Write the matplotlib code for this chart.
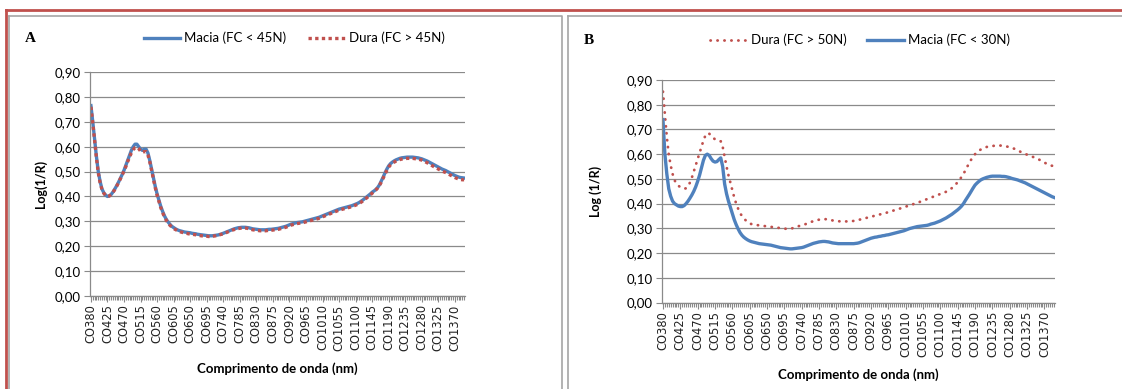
import numpy as np
import matplotlib
matplotlib.use("Agg")
import matplotlib.pyplot as plt
from matplotlib.lines import Line2D
from matplotlib.ticker import FixedLocator, FuncFormatter, MultipleLocator

# categories: CO380 ... CO1395, one every 5 nm
wavelengths = list(range(380, 1400, 5))
categories = ["CO%d" % w for w in wavelengths]

# panel A, one row per labelled step (9 categories)
macia_a = [
    0.765, 0.70, 0.63, 0.56, 0.50, 0.46, 0.43, 0.415, 0.405,
    0.40, 0.402, 0.408, 0.418, 0.43, 0.443, 0.457, 0.472, 0.488,
    0.505, 0.525, 0.545, 0.565, 0.585, 0.60, 0.61, 0.61, 0.60,
    0.59, 0.585, 0.59, 0.59, 0.575, 0.545, 0.51, 0.475, 0.44,
    0.41, 0.385, 0.36, 0.34, 0.322, 0.308, 0.297, 0.288, 0.28,
    0.275, 0.27, 0.266, 0.263, 0.261, 0.259, 0.257, 0.256, 0.255,
    0.254, 0.252, 0.251, 0.25, 0.248, 0.247, 0.246, 0.245, 0.244,
    0.243, 0.242, 0.242, 0.242, 0.243, 0.244, 0.245, 0.247, 0.249,
    0.252, 0.255, 0.258, 0.261, 0.264, 0.267, 0.27, 0.272, 0.274,
    0.275, 0.276, 0.276, 0.276, 0.275, 0.274, 0.272, 0.27, 0.269,
    0.268, 0.267, 0.266, 0.266, 0.266, 0.266, 0.267, 0.268, 0.268,
    0.269, 0.27, 0.271, 0.272, 0.274, 0.276, 0.278, 0.28, 0.283,
    0.286, 0.289, 0.291, 0.293, 0.295, 0.296, 0.297, 0.298, 0.30,
    0.302, 0.304, 0.306, 0.308, 0.31, 0.312, 0.314, 0.316, 0.319,
    0.322, 0.325, 0.328, 0.331, 0.334, 0.337, 0.34, 0.343, 0.346,
    0.349, 0.351, 0.353, 0.355, 0.357, 0.359, 0.361, 0.363, 0.366,
    0.369, 0.372, 0.376, 0.381, 0.386, 0.392, 0.398, 0.404, 0.41,
    0.417, 0.422, 0.428, 0.436, 0.447, 0.462, 0.478, 0.495, 0.51,
    0.523, 0.532, 0.538, 0.543, 0.547, 0.55, 0.553, 0.555, 0.556,
    0.557, 0.558, 0.558, 0.558, 0.558, 0.557, 0.556, 0.555, 0.553,
    0.551, 0.548, 0.545, 0.542, 0.538, 0.534, 0.53, 0.526, 0.522,
    0.518, 0.514, 0.51, 0.507, 0.504, 0.50, 0.496, 0.492, 0.488,
    0.484, 0.481, 0.478, 0.476, 0.475, 0.474,
]
dura_a = [
    0.76, 0.695, 0.625, 0.555, 0.495, 0.455, 0.428, 0.413, 0.404,
    0.40, 0.402, 0.407, 0.416, 0.428, 0.441, 0.455, 0.47, 0.486,
    0.502, 0.52, 0.54, 0.558, 0.575, 0.588, 0.596, 0.598, 0.592,
    0.582, 0.577, 0.58, 0.58, 0.567, 0.54, 0.505, 0.47, 0.435,
    0.405, 0.38, 0.355, 0.335, 0.318, 0.304, 0.293, 0.284, 0.277,
    0.271, 0.267, 0.263, 0.26, 0.257, 0.255, 0.253, 0.252, 0.25,
    0.249, 0.248, 0.247, 0.246, 0.244, 0.243, 0.242, 0.241, 0.24,
    0.24, 0.239, 0.239, 0.24, 0.241, 0.242, 0.244, 0.246, 0.248,
    0.25, 0.253, 0.256, 0.259, 0.262, 0.265, 0.267, 0.269, 0.271,
    0.272, 0.273, 0.273, 0.273, 0.272, 0.27, 0.268, 0.266, 0.265,
    0.264, 0.263, 0.262, 0.262, 0.262, 0.262, 0.263, 0.264, 0.264,
    0.265, 0.266, 0.267, 0.268, 0.27, 0.272, 0.274, 0.276, 0.279,
    0.282, 0.285, 0.287, 0.289, 0.291, 0.292, 0.293, 0.294, 0.296,
    0.298, 0.30, 0.302, 0.304, 0.306, 0.308, 0.31, 0.312, 0.315,
    0.318, 0.321, 0.324, 0.327, 0.33, 0.333, 0.336, 0.339, 0.342,
    0.345, 0.347, 0.349, 0.351, 0.353, 0.355, 0.357, 0.359, 0.362,
    0.365, 0.368, 0.372, 0.377, 0.382, 0.388, 0.394, 0.40, 0.406,
    0.413, 0.42, 0.426, 0.434, 0.445, 0.458, 0.474, 0.49, 0.505,
    0.518, 0.527, 0.533, 0.538, 0.542, 0.545, 0.548, 0.55, 0.551,
    0.552, 0.553, 0.553, 0.553, 0.553, 0.552, 0.551, 0.55, 0.548,
    0.546, 0.543, 0.539, 0.535, 0.531, 0.527, 0.522, 0.518, 0.514,
    0.51, 0.506, 0.502, 0.499, 0.496, 0.492, 0.488, 0.484, 0.48,
    0.476, 0.473, 0.47, 0.468, 0.467, 0.467,
]

# panel B
dura_b = [
    0.853, 0.76, 0.67, 0.60, 0.555, 0.52, 0.495, 0.48, 0.472,
    0.467, 0.463, 0.46, 0.462, 0.47, 0.485, 0.505, 0.53, 0.555,
    0.58, 0.605, 0.63, 0.655, 0.675, 0.685, 0.683, 0.675, 0.667,
    0.66, 0.656, 0.654, 0.652, 0.63, 0.59, 0.55, 0.515, 0.485,
    0.455, 0.425, 0.40, 0.38, 0.362, 0.35, 0.34, 0.332, 0.325,
    0.32, 0.317, 0.315, 0.314, 0.313, 0.312, 0.311, 0.31, 0.309,
    0.308, 0.307, 0.306, 0.305, 0.304, 0.303, 0.302, 0.301, 0.30,
    0.299, 0.298, 0.297, 0.298, 0.30, 0.302, 0.305, 0.308, 0.31,
    0.312, 0.314, 0.317, 0.32, 0.323, 0.326, 0.329, 0.331, 0.333,
    0.335, 0.336, 0.337, 0.337, 0.337, 0.336, 0.334, 0.332, 0.331,
    0.33, 0.329, 0.328, 0.328, 0.328, 0.328, 0.328, 0.328, 0.329,
    0.33, 0.331, 0.333, 0.335, 0.337, 0.339, 0.341, 0.343, 0.345,
    0.347, 0.349, 0.351, 0.353, 0.355, 0.357, 0.359, 0.361, 0.363,
    0.366, 0.368, 0.37, 0.373, 0.375, 0.378, 0.38, 0.383, 0.385,
    0.388, 0.39, 0.393, 0.395, 0.398, 0.40, 0.403, 0.406, 0.409,
    0.412, 0.415, 0.418, 0.421, 0.424, 0.427, 0.43, 0.433, 0.436,
    0.439, 0.442, 0.445, 0.448, 0.452, 0.457, 0.463, 0.47, 0.478,
    0.487, 0.497, 0.508, 0.52, 0.535, 0.55, 0.565, 0.578, 0.59,
    0.60, 0.608, 0.614, 0.619, 0.623, 0.626, 0.629, 0.631, 0.632,
    0.633, 0.634, 0.635, 0.635, 0.635, 0.634, 0.633, 0.632, 0.63,
    0.628, 0.626, 0.623, 0.62, 0.616, 0.612, 0.608, 0.605, 0.601,
    0.598, 0.595, 0.592, 0.589, 0.586, 0.583, 0.579, 0.575, 0.571,
    0.566, 0.562, 0.558, 0.555, 0.553, 0.551,
]
macia_b = [
    0.74, 0.60, 0.52, 0.46, 0.43, 0.41, 0.40, 0.395, 0.39,
    0.388, 0.388, 0.392, 0.40, 0.41, 0.422, 0.435, 0.45, 0.468,
    0.49, 0.515, 0.545, 0.575, 0.595, 0.60, 0.595, 0.582, 0.572,
    0.568, 0.57, 0.578, 0.585, 0.55, 0.48, 0.44, 0.41, 0.385,
    0.36, 0.335, 0.315, 0.298, 0.283, 0.272, 0.264, 0.258, 0.253,
    0.249, 0.246, 0.244, 0.242, 0.24, 0.238, 0.237, 0.236, 0.235,
    0.234, 0.233, 0.232, 0.23, 0.228, 0.226, 0.224, 0.222, 0.221,
    0.22, 0.219, 0.218, 0.217, 0.217, 0.218, 0.219, 0.22, 0.221,
    0.222, 0.224, 0.227, 0.23, 0.233, 0.236, 0.239, 0.241, 0.243,
    0.245, 0.246, 0.247, 0.247, 0.246, 0.245, 0.243, 0.241, 0.24,
    0.239, 0.238, 0.238, 0.238, 0.238, 0.238, 0.238, 0.238, 0.238,
    0.238, 0.239, 0.24, 0.242, 0.245, 0.248, 0.251, 0.254, 0.257,
    0.26, 0.262, 0.264, 0.265, 0.267, 0.268, 0.27, 0.271, 0.273,
    0.274, 0.276, 0.278, 0.28, 0.282, 0.284, 0.286, 0.288, 0.29,
    0.293, 0.296, 0.299, 0.301, 0.303, 0.305, 0.307, 0.308, 0.309,
    0.31, 0.311, 0.312, 0.314, 0.317, 0.319, 0.321, 0.324, 0.327,
    0.33, 0.334, 0.338, 0.342, 0.347, 0.352, 0.357, 0.363, 0.369,
    0.375, 0.382, 0.39, 0.40, 0.413, 0.425, 0.437, 0.45, 0.463,
    0.475, 0.483, 0.49, 0.496, 0.50, 0.503, 0.506, 0.508, 0.51,
    0.511, 0.511, 0.511, 0.511, 0.511, 0.51, 0.51, 0.509, 0.507,
    0.505, 0.502, 0.50, 0.498, 0.496, 0.493, 0.49, 0.487, 0.484,
    0.48, 0.476, 0.472, 0.468, 0.464, 0.46, 0.456, 0.452, 0.448,
    0.444, 0.44, 0.436, 0.432, 0.428, 0.425,
]

BLUE = "#4f81bd"
RED = "#c0504d"
GRAY = "#8a8a8a"
SANS = "Lato"

fig = plt.figure(figsize=(11.22, 3.89), dpi=100)
W, H = 1122.0, 389.0


def fx(px):
    return px / W


def fy(py):
    return 1 - py / H


# outer frame: red top and left lines, gray panel boxes
fig.add_artist(Line2D([fx(6), 1], [fy(10), fy(10)], color=RED, lw=2))
fig.add_artist(Line2D([fx(6), fx(6)], [0, fy(10)], color=RED, lw=2))
for x0, x1 in [(9, 562), (568, 1130)]:
    fig.add_artist(Line2D([fx(x0), fx(x1), fx(x1)], [fy(16), fy(16), 0],
                          color="#a6a6a6", lw=1.2))
    fig.add_artist(Line2D([fx(x0), fx(x0)], [fy(16), 0], color="#a6a6a6", lw=1.2))

x = np.arange(len(categories))


def style_axes(ax, ylabel, ylab_x):
    ax.set_xlim(-0.5, len(categories) - 0.5)
    ax.set_ylim(0, 0.9)
    ax.yaxis.set_major_locator(MultipleLocator(0.1))
    ax.yaxis.set_major_formatter(FuncFormatter(lambda v, p: ("%.2f" % v).replace(".", ",")))
    major = list(range(0, len(categories), 9))
    ax.xaxis.set_major_locator(FixedLocator(major))
    ax.xaxis.set_minor_locator(FixedLocator(list(x)))
    ax.set_xticklabels([categories[i] for i in major], rotation=90,
                       fontsize=8.3, family="DejaVu Sans", color="#222222")
    for lab in ax.get_yticklabels():
        lab.set_family(SANS)
        lab.set_fontsize(9.5)
    ax.tick_params(axis="both", which="both", color=GRAY, width=0.8)
    ax.tick_params(axis="x", which="major", length=4, pad=2)
    ax.tick_params(axis="x", which="minor", length=3)
    ax.tick_params(axis="y", length=4, pad=3)
    ax.grid(axis="y", color=GRAY, lw=0.9)
    ax.set_axisbelow(True)
    for s in ["top", "right"]:
        ax.spines[s].set_visible(False)
    for s in ["left", "bottom"]:
        ax.spines[s].set_color(GRAY)
        ax.spines[s].set_linewidth(0.9)
    ax.set_xlabel("Comprimento de onda (nm)", family=SANS, fontsize=9.5,
                  fontweight="bold", labelpad=8)
    fig.text(ylab_x, (ax.get_position().y0 + ax.get_position().y1) / 2, ylabel,
             rotation=90, ha="center", va="center", family=SANS,
             fontsize=9, fontweight="bold")


# panel A
axA = fig.add_axes([fx(90), fy(296), fx(465) - fx(90), fy(72) - fy(296)])
axA.plot(x, macia_a, color=BLUE, lw=2.4, label="Macia (FC < 45N)")
axA.plot(x, dura_a, color=RED, lw=2.4, dashes=(1, 1), dash_capstyle="butt",
         label="Dura (FC > 45N)")
style_axes(axA, "Log(1/R)", fx(41))
axA.legend(loc="center", bbox_to_anchor=(fx(294), fy(38)), bbox_transform=fig.transFigure,
           ncol=2, frameon=False, prop={"family": SANS, "size": 9.5},
           handlelength=2.8, columnspacing=1.6, handletextpad=0.3)
fig.text(fx(25), fy(38), "A", family="Liberation Serif", fontweight="bold",
         fontsize=11, va="center", ha="left")

# panel B
axB = fig.add_axes([fx(662), fy(302.5), fx(1055) - fx(662), fy(80) - fy(302.5)])
axB.plot(x, dura_b, color=RED, lw=2.0, dashes=(0.1, 2.4), dash_capstyle="round",
         label="Dura (FC > 50N)")
axB.plot(x, macia_b, color=BLUE, lw=2.4, label="Macia (FC < 30N)")
style_axes(axB, "Log (1/R)", fx(596))
axB.legend(loc="center", bbox_to_anchor=(fx(860), fy(40)), bbox_transform=fig.transFigure,
           ncol=2, frameon=False, prop={"family": SANS, "size": 9.5},
           handlelength=2.8, columnspacing=1.6, handletextpad=0.3)
fig.text(fx(584), fy(40), "B", family="Liberation Serif", fontweight="bold",
         fontsize=11, va="center", ha="left")

fig.savefig("out.png", dpi=100, facecolor="white")
